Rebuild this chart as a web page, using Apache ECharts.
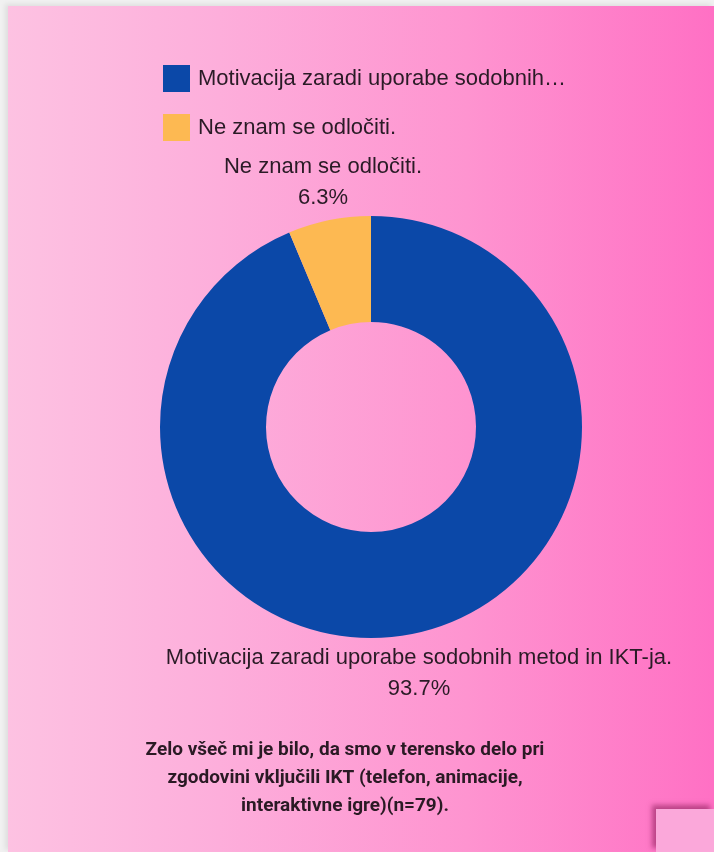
<!DOCTYPE html>
<html>
<head>
<meta charset="utf-8">
<script src="https://cdn.jsdelivr.net/npm/echarts@6/dist/echarts.min.js"></script>
<style>
  html, body { margin: 0; padding: 0; width: 714px; height: 852px; overflow: hidden; background: #f1f1f1; }
  #bg { position: absolute; left: 8px; top: 6px; width: 706px; height: 846px;
        background: linear-gradient(to right, #fdc2e2 0%, #fdaedb 30%, #fe94d0 65%, #ff70c4 100%);
        box-shadow: -3px -2px 5px rgba(0,0,0,0.08); }
  #box { position: absolute; left: 656px; top: 809px; width: 58px; height: 43px; background: #fba8da;
        box-shadow: -4px -4px 5px rgba(150,40,100,0.65); }
  #chart { position: absolute; left: 0; top: 0; width: 714px; height: 852px; }
</style>
</head>
<body>
<div id="bg"></div>
<div id="box"></div>
<div id="chart"></div>
<script>
const categories = ['Motivacija zaradi uporabe sodobnih metod in IKT-ja.', 'Ne znam se odločiti.'];
const legendNames = ['Motivacija zaradi uporabe sodobnih…', 'Ne znam se odločiti.'];
const counts = [74, 5];
const percentLabels = ['93.7%', '6.3%'];
const colors = ['#0b48a8', '#fdb952'];
const titleLines = ['Zelo všeč mi je bilo, da smo v terensko delo pri', 'zgodovini vključili IKT (telefon, animacije,', 'interaktivne igre)(n=79).'];

const chart = echarts.init(document.getElementById('chart'), null, { renderer: 'canvas' });
const labelPos = [{ x: 419, y: 673 }, { x: 323, y: 182 }];
const textColor = '#2a1b26';

chart.setOption({
  backgroundColor: 'transparent',
  animation: false,
  title: {
    text: titleLines.join('\n'),
    left: 345,
    top: 736,
    padding: 0,
    textAlign: 'center',
    textStyle: { fontFamily: 'Roboto', fontWeight: 'bold', fontSize: 19, lineHeight: 28, color: '#2a1a24' }
  },
  legend: {
    orient: 'vertical',
    left: 163,
    top: 65,
    padding: 0,
    icon: 'rect',
    itemWidth: 27,
    itemHeight: 27,
    itemGap: 22,
    selectedMode: false,
    data: categories,
    formatter: function (name) { return legendNames[categories.indexOf(name)]; },
    textStyle: { fontFamily: 'Liberation Sans', fontSize: 22, color: textColor, padding: [0, 0, 0, 3] }
  },
  series: [{
    type: 'pie',
    center: [371, 427],
    radius: [105, 211],
    startAngle: 90,
    clockwise: true,
    avoidLabelOverlap: false,
    itemStyle: { borderWidth: 0 },
    label: {
      show: true,
      position: 'outside',
      formatter: function (p) { return p.name + '\n' + percentLabels[p.dataIndex]; },
      fontFamily: 'Liberation Sans',
      fontSize: 22,
      lineHeight: 31,
      color: textColor,
      align: 'center'
    },
    labelLine: { show: false },
    labelLayout: function (params) {
      const p = labelPos[params.dataIndex];
      return { x: p.x, y: p.y, align: 'center', verticalAlign: 'middle' };
    },
    emphasis: { disabled: true },
    data: categories.map(function (c, i) {
      return { name: c, value: counts[i], itemStyle: { color: colors[i] } };
    })
  }]
});
</script>
</body>
</html>
